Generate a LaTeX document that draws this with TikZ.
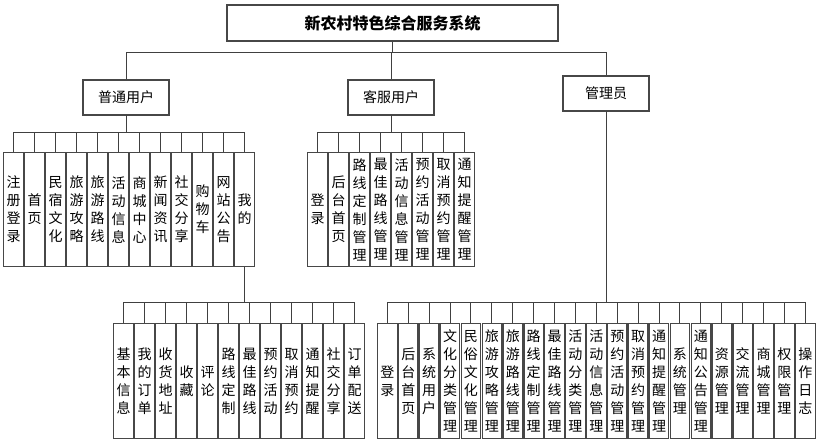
\documentclass[tikz,border=0pt]{standalone}
\usepackage{fontspec}
\newfontfamily\cjk{Noto Sans CJK SC}
\begin{document}
\begin{tikzpicture}[x=1pt,y=-1pt,
  box/.style={draw=black!72,line width=1.2pt,fill=white,inner sep=0pt,font=\cjk\fontsize{14}{16}\selectfont},
  vbx/.style={box,anchor=north west,minimum width=20pt,minimum height=114pt,text width=20pt,align=center,font=\cjk\fontsize{14}{18}\selectfont},
  wbx/.style={vbx,minimum width=19.5pt,text width=19.5pt,minimum height=115pt},
  conn/.style={draw=black!75,line width=1pt}]
\useasboundingbox (0,0) rectangle (822,444);
% title and level 1
\node[box,minimum width=331pt,minimum height=36pt,font=\cjk\bfseries\fontsize{16}{18}\selectfont] (root) at (392.5,23) {新农村特色综合服务系统};
\node[box,minimum width=86pt,minimum height=35pt] (u) at (126,97.5) {普通用户};
\node[box,minimum width=86pt,minimum height=35pt] (k) at (391,97.5) {客服用户};
\node[box,minimum width=86pt,minimum height=35pt] (m) at (606,93.5) {管理员};
\coordinate (b0) at (0,53);
\coordinate (b1) at (0,132);
\coordinate (b2) at (0,302);
% level 2: 普通用户
\foreach \t [count=\i from 0] in {{注\\册\\登\\录},{首\\页},{民\\宿\\文\\化},{旅\\游\\攻\\略},{旅\\游\\路\\线},{活\\动\\信\\息},{商\\城\\中\\心},{新\\闻\\资\\讯},{社\\交\\分\\享},{购\\物\\车},{网\\站\\公\\告},{我\\的}}
  \node[vbx] (a\i) at (3+21*\i,152) {\t};
% level 2: 客服用户
\foreach \t [count=\i from 0] in {{登\\录},{后\\台\\首\\页},{路\\线\\定\\制\\管\\理},{最\\佳\\路\\线\\管\\理},{活\\动\\信\\息\\管\\理},{预\\约\\活\\动\\管\\理},{取\\消\\预\\约\\管\\理},{通\\知\\提\\醒\\管\\理}}
  \node[vbx] (c\i) at (307+21*\i,152) {\t};
% level 3: 我的
\foreach \t [count=\i from 0] in {{基\\本\\信\\息},{我\\的\\订\\单},{收\\货\\地\\址},{收\\藏},{评\\论},{路\\线\\定\\制},{最\\佳\\路\\线},{预\\约\\活\\动},{取\\消\\预\\约},{通\\知\\提\\醒},{社\\交\\分\\享},{订\\单\\配\\送}}
  \node[vbx,minimum height=115pt] (d\i) at (113+21*\i,323) {\t};
% level 2: 管理员
\foreach \t [count=\i from 0] in {{登\\录},{后\\台\\首\\页},{系\\统\\用\\户},{文\\化\\分\\类\\管\\理},{民\\俗\\文\\化\\管\\理},{旅\\游\\攻\\略\\管\\理},{旅\\游\\路\\线\\管\\理},{路\\线\\定\\制\\管\\理},{最\\佳\\路\\线\\管\\理},{活\\动\\分\\类\\管\\理},{活\\动\\信\\息\\管\\理},{预\\约\\活\\动\\管\\理},{取\\消\\预\\约\\管\\理},{通\\知\\提\\醒\\管\\理},{系\\统\\管\\理},{通\\知\\公\\告\\管\\理},{资\\源\\管\\理},{交\\流\\管\\理},{商\\城\\管\\理},{权\\限\\管\\理},{操\\作\\日\\志}}
  \node[wbx] (e\i) at (377+20.9*\i,323) {\t};
% connectors
\foreach \n in {u,k,m}
  \draw[conn] (root.south) |- (\n.north |- b0) -- (\n.north);
\foreach \i in {0,...,11}
  \draw[conn] (u.south) |- (a\i.north |- b1) -- (a\i.north);
\foreach \i in {0,...,7}
  \draw[conn] (k.south) |- (c\i.north |- b1) -- (c\i.north);
\foreach \i in {0,...,11}
  \draw[conn] (a11.south) |- (d\i.north |- b2) -- (d\i.north);
\foreach \i in {0,...,20}
  \draw[conn] (m.south) |- (e\i.north |- b2) -- (e\i.north);
\end{tikzpicture}
\end{document}
